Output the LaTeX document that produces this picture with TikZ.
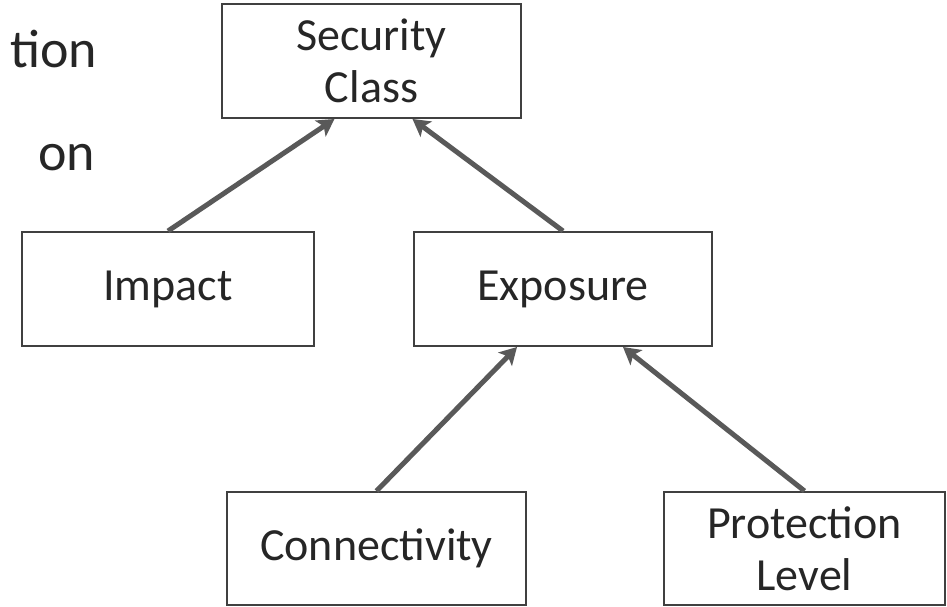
\documentclass[tikz,border=0pt]{standalone}
\usepackage{fontspec}
\setmainfont{Carlito}
\usetikzlibrary{arrows.meta}
\definecolor{boxline}{HTML}{404040}
\definecolor{txt}{HTML}{262626}
\definecolor{arr}{HTML}{595959}
\begin{document}
\begin{tikzpicture}[x=1pt,y=-1pt,
  box/.style={draw=boxline,line width=2pt,rectangle,inner sep=0pt,
    text=txt,align=center,font=\fontsize{46}{52}\selectfont,
    minimum height=114pt},
  conn/.style={draw=arr,line width=5pt,-{Stealth[length=17pt,width=19pt,inset=4pt]}},
  bg/.style={text=txt,font=\fontsize{54}{60}\selectfont,inner sep=0pt,anchor=base west}]
\useasboundingbox (0,0) rectangle (947,606);
\fill[white] (0,0) rectangle (947,606);
\node[bg] (t1) at (10,67) {tion};
\node[bg] (t2) at (38,170) {on};
\node[box,minimum width=299pt] (sec) at (371.5,61) {Security\\Class};
\node[box,minimum width=292pt] (imp) at (168,289) {Impact};
\node[box,minimum width=298pt] (expo) at (563,289) {Exposure};
\node[box,minimum width=299pt,minimum height=113pt] (cn) at (376.5,548.5) {Connectivity};
\node[box,minimum width=281pt,minimum height=113pt] (prot) at (804.5,548.5) {Protection\\Level};
\draw[conn] (imp.north) -- ([xshift=-37pt]sec.south);
\draw[conn] (expo.north) -- ([xshift=41pt]sec.south);
\draw[conn] (cn.north) -- ([xshift=-46pt]expo.south);
\draw[conn] (prot.north) -- ([xshift=60pt]expo.south);
\end{tikzpicture}
\end{document}
